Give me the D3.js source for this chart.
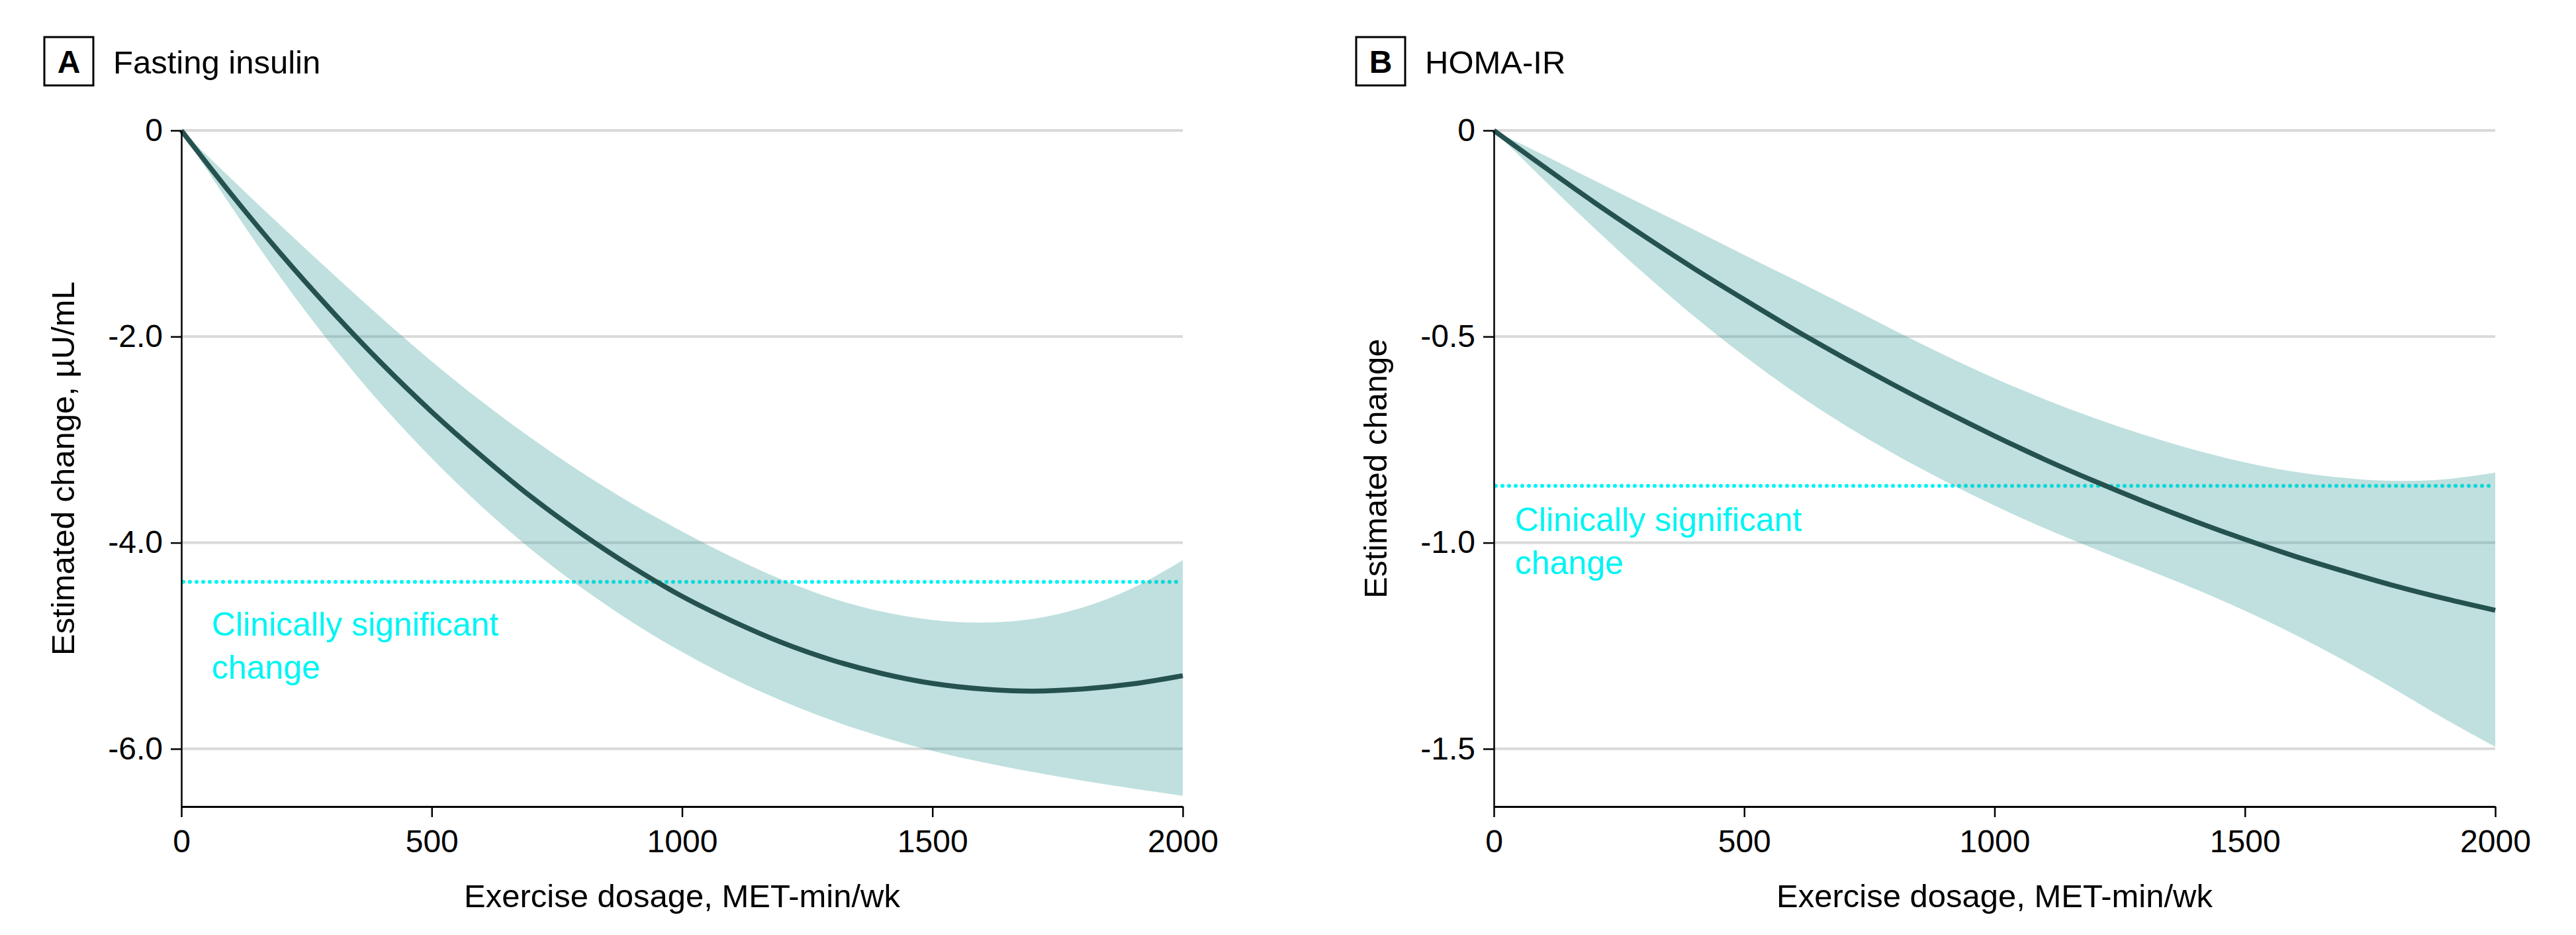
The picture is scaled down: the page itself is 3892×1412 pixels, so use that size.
<!DOCTYPE html>
<html>
<head>
<meta charset="utf-8">
<script src="https://cdn.jsdelivr.net/npm/d3@7"></script>
<style>
  html, body { margin: 0; padding: 0; background: #fff; }
  svg text { font-family: "Liberation Sans", Arial, sans-serif; }
</style>
</head>
<body>
<svg id="chart" width="3892" height="1412"></svg>
<script>
// ---------------- DATA ----------------
const dosage = [0, 100, 200, 300, 400, 500, 600, 700, 800, 900, 1000,
                1100, 1200, 1300, 1400, 1500, 1600, 1700, 1800, 1900, 2000];

const insulinFit   = [0, -0.62, -1.205, -1.75, -2.26, -2.73, -3.16, -3.56, -3.915, -4.235, -4.52,
                      -4.76, -4.97, -5.14, -5.27, -5.365, -5.42, -5.44, -5.42, -5.37, -5.29];
const insulinUpper = [0, -0.47, -0.93, -1.38, -1.82, -2.24, -2.63, -2.99, -3.32, -3.62, -3.89,
                      -4.14, -4.36, -4.54, -4.67, -4.75, -4.775, -4.74, -4.63, -4.44, -4.17];
const insulinLower = [0, -0.74, -1.44, -2.08, -2.66, -3.18, -3.65, -4.07, -4.44, -4.77, -5.06,
                      -5.315, -5.535, -5.725, -5.885, -6.02, -6.13, -6.225, -6.31, -6.385, -6.455];

const homaFit   = [0, -0.088, -0.174, -0.256, -0.335, -0.41, -0.483, -0.552, -0.618, -0.681, -0.741,
                   -0.798, -0.851, -0.901, -0.948, -0.992, -1.033, -1.07, -1.105, -1.136, -1.164];
const homaUpper = [0, -0.06, -0.121, -0.181, -0.241, -0.302, -0.362, -0.423, -0.485, -0.545, -0.601,
                   -0.652, -0.698, -0.739, -0.775, -0.805, -0.828, -0.843, -0.85, -0.846, -0.83];
const homaLower = [0, -0.12, -0.236, -0.347, -0.451, -0.547, -0.635, -0.714, -0.785, -0.85, -0.91,
                   -0.965, -1.015, -1.063, -1.112, -1.165, -1.223, -1.287, -1.356, -1.428, -1.495];

const xTickValues = [0, 500, 1000, 1500, 2000];
const xTickLabels = ["0", "500", "1000", "1500", "2000"];
const insulinTickValues = [0, -2, -4, -6];
const insulinTickLabels = ["0", "-2.0", "-4.0", "-6.0"];
const homaTickValues = [0, -0.5, -1.0, -1.5];
const homaTickLabels = ["0", "-0.5", "-1.0", "-1.5"];

const insulinYDomain = [-6.56, 0];
const homaYDomain = [-1.64, 0];
const insulinThreshold = -4.38;
const homaThreshold = -0.862;

const panelLetters = ["A", "B"];
const panelTitles = ["Fasting insulin", "HOMA-IR"];
const yAxisTitles = ["Estimated change, µU/mL", "Estimated change"];
const xAxisTitle = "Exercise dosage, MET-min/wk";
const thresholdLabel = ["Clinically significant", "change"];

// ---------------- STYLE / LAYOUT ----------------
const COLORS = {
  line: "#25524f",
  band: "rgb(42,152,148)",
  grid: "#d9d9d9",
  cyan: "#00f4f4",
  axis: "#000"
};

const panels = [
  { letter: panelLetters[0], title: panelTitles[0], yTitle: yAxisTitles[0],
    left: 274, boxX: 67, titleX: 171, fit: insulinFit, upper: insulinUpper, lower: insulinLower,
    yDomain: insulinYDomain, yTicks: insulinTickValues, yLabels: insulinTickLabels,
    threshold: insulinThreshold, labelX: 320, labelY: 960 },
  { letter: panelLetters[1], title: panelTitles[1], yTitle: yAxisTitles[1],
    left: 2257, boxX: 2049, titleX: 2153, fit: homaFit, upper: homaUpper, lower: homaLower,
    yDomain: homaYDomain, yTicks: homaTickValues, yLabels: homaTickLabels,
    threshold: homaThreshold, labelX: 2289, labelY: 802 }
];

const plotW = 1513;
const plotTop = 197, plotBottom = 1218;
const svg = d3.select("#chart");
const smooth = d3.curveCatmullRom.alpha(0.5);

panels.forEach(p => {
  const x = d3.scaleLinear().domain([0, 2000]).range([p.left, p.left + plotW]);
  const y = d3.scaleLinear().domain(p.yDomain).range([plotBottom, plotTop]);
  const g = svg.append("g");

  // panel letter box + title
  g.append("rect").attr("x", p.boxX).attr("y", 56).attr("width", 74).attr("height", 73)
    .attr("fill", "none").attr("stroke", "#000").attr("stroke-width", 3);
  g.append("text").attr("x", p.boxX + 37).attr("y", 110).attr("text-anchor", "middle")
    .attr("font-size", 48).attr("font-weight", "bold").text(p.letter);
  g.append("text").attr("x", p.titleX).attr("y", 111).attr("font-size", 49).text(p.title);

  // gridlines
  g.append("g").selectAll("line").data(p.yTicks).join("line")
    .attr("x1", x(0)).attr("x2", x(2000))
    .attr("y1", d => y(d)).attr("y2", d => y(d))
    .attr("stroke", COLORS.grid).attr("stroke-width", 4);

  // threshold dotted line
  g.append("line")
    .attr("x1", x(0) + 3).attr("x2", x(2000))
    .attr("y1", y(p.threshold)).attr("y2", y(p.threshold))
    .attr("stroke", COLORS.cyan).attr("stroke-width", 6)
    .attr("stroke-linecap", "round").attr("stroke-dasharray", "0,10");

  // threshold label
  const lbl = g.append("text").attr("x", p.labelX).attr("y", p.labelY)
    .attr("font-size", 50).attr("fill", COLORS.cyan);
  lbl.append("tspan").attr("x", p.labelX).text(thresholdLabel[0]);
  lbl.append("tspan").attr("x", p.labelX).attr("dy", 65).text(thresholdLabel[1]);

  // confidence band
  const bandData = dosage.map((d, i) => ({ x: d, lo: p.lower[i], hi: p.upper[i] }));
  const area = d3.area().x(d => x(d.x)).y0(d => y(d.lo)).y1(d => y(d.hi)).curve(smooth);
  g.append("path").datum(bandData).attr("d", area)
    .attr("fill", COLORS.band).attr("fill-opacity", 0.3);

  // fitted line
  const lineData = dosage.map((d, i) => ({ x: d, v: p.fit[i] }));
  const line = d3.line().x(d => x(d.x)).y(d => y(d.v)).curve(smooth);
  g.append("path").datum(lineData).attr("d", line)
    .attr("fill", "none").attr("stroke", COLORS.line).attr("stroke-width", 7.5);

  // axes
  const xAxis = d3.axisBottom(x).tickValues(xTickValues)
    .tickFormat((d, i) => xTickLabels[i]).tickSize(16).tickSizeOuter(0).tickPadding(19);
  const xg = g.append("g").attr("transform", `translate(0,${plotBottom})`).call(xAxis);
  xg.select(".domain").attr("stroke", COLORS.axis).attr("stroke-width", 3);
  xg.selectAll(".tick line").attr("stroke", COLORS.axis).attr("stroke-width", 2.5);
  xg.selectAll(".tick text").attr("font-size", 48).attr("fill", "#000")
    .attr("font-family", "Liberation Sans, Arial, sans-serif");

  const yAxis = d3.axisLeft(y).tickValues(p.yTicks)
    .tickFormat((d, i) => p.yLabels[i]).tickSize(16).tickSizeOuter(0).tickPadding(12);
  const yg = g.append("g").attr("transform", `translate(${p.left},0)`).call(yAxis);
  yg.select(".domain").attr("stroke", COLORS.axis).attr("stroke-width", 2.5);
  yg.selectAll(".tick line").attr("stroke", COLORS.axis).attr("stroke-width", 2.5);
  yg.selectAll(".tick text").attr("font-size", 48).attr("fill", "#000")
    .attr("font-family", "Liberation Sans, Arial, sans-serif");

  // axis titles
  g.append("text").attr("x", x(1000)).attr("y", 1370).attr("text-anchor", "middle")
    .attr("font-size", 49).text(xAxisTitle);
  g.append("text")
    .attr("transform", `translate(${p.left - 162},${(plotTop + plotBottom) / 2}) rotate(-90)`)
    .attr("text-anchor", "middle").attr("font-size", 49).text(p.yTitle);
});
</script>
</body>
</html>
